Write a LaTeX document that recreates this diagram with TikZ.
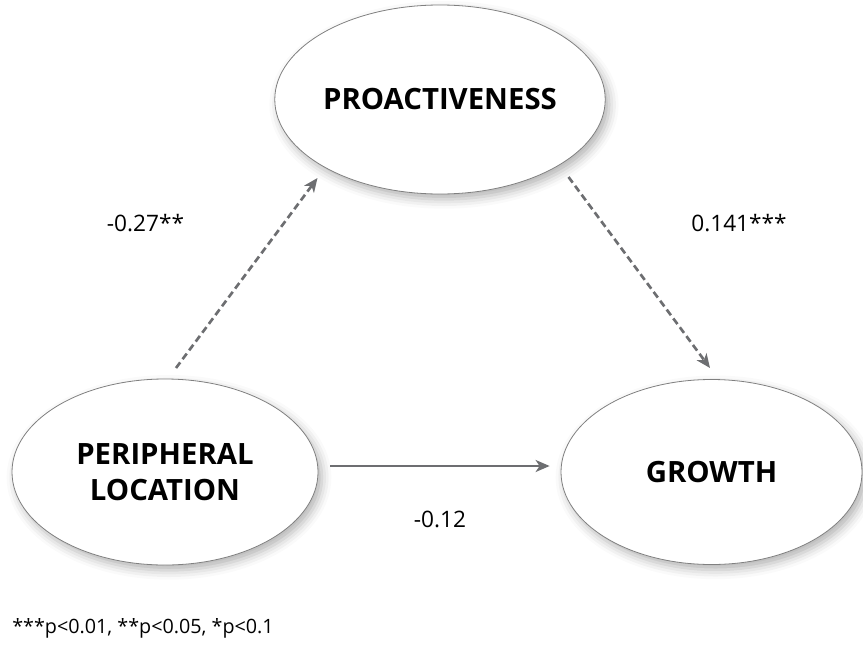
\documentclass[tikz,border=0pt]{standalone}
\usepackage{fontspec}
\setmainfont{Open Sans}
\usetikzlibrary{shapes.geometric,arrows.meta,shadows.blur}
\definecolor{arrgray}{HTML}{6D6E71}
\definecolor{edgegray}{HTML}{808080}
\begin{document}
\begin{tikzpicture}[x=0.75pt,y=-0.75pt,
  latent/.style={ellipse, draw=edgegray, line width=0.6pt, fill=white, inner sep=0pt,
    align=center, font=\bfseries\fontsize{22}{27.5}\selectfont,
    blur shadow={shadow xshift=3pt, shadow yshift=-4pt, shadow blur radius=7pt, shadow opacity=30}},
  coef/.style={anchor=base, inner sep=0pt, font=\fontsize{17}{20}\selectfont, text=black},
  tipA/.style={-{Stealth[length=10.5pt,width=9pt,inset=3pt]}},
  darr/.style={draw=arrgray, line width=2pt, dash pattern=on 5.25pt off 3pt, tipA},
  sarr/.style={draw=arrgray, line width=1.7pt, tipA}
]
\useasboundingbox (0,0) rectangle (863,646);

\node[latent, minimum width=229.5pt, minimum height=141.75pt] (pro) at (440,99.5) {PROACTIVENESS};
\node[latent, minimum width=229.5pt, minimum height=139.5pt] (per) at (165,472) {PERIPHERAL\\LOCATION};
\node[latent, minimum width=225.75pt, minimum height=138.75pt] (gro) at (711.5,472) {GROWTH};

\coordinate (d1s) at (176,368);
\coordinate (d1e) at (317.5,178);
\coordinate (d2s) at (568.5,177);
\coordinate (d2e) at (710,368);

\draw[darr] (d1s) -- (d1e);
\draw[darr] (d2s) -- (d2e);
\draw[sarr, shorten <=9pt, shorten >=8.25pt] ([yshift=4.5pt]per.east) -- ([yshift=4.5pt]gro.west);

\node[coef] (c1) at (145.5,231) {-0.27**};
\node[coef] (c2) at (739,231) {0.141***};
\node[coef] (c3) at (440,527) {-0.12};
\node[anchor=base west, inner sep=0pt, font=\fontsize{14.8}{17}\selectfont] (note) at (12,633) {***p<0.01, **p<0.05, *p<0.1};
\end{tikzpicture}
\end{document}
